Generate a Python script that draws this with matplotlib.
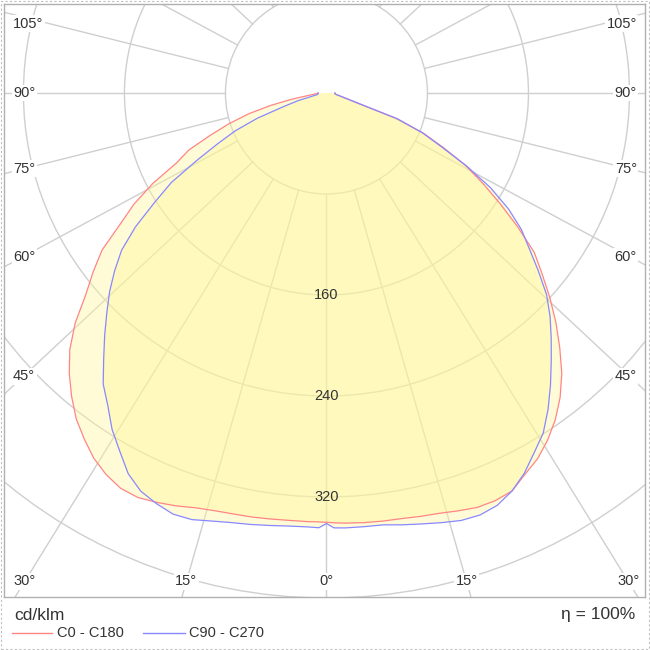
import numpy as np
import matplotlib.pyplot as plt
from matplotlib.lines import Line2D
from matplotlib.patches import Circle, Rectangle

plt.rcParams['font.family'] = ['Liberation Sans', 'DejaVu Sans']

# luminous intensity in cd/klm, gamma measured from straight down
gamma = np.array([0, 1] + list(np.arange(2.5, 90.1, 2.5)))
c0 = [340, 340.5, 341, 341.6, 342, 342.3, 343.5, 344.7, 347, 349.3,
      349.5, 347.8, 340.5, 334.5, 326, 316, 304, 290, 273.5, 257,
      240, 223, 207.5, 185, 163, 143, 124, 102, 83, 58,
      23, 15, 11, 8.6, 7.2, 6.8, 6.7, 6.7]
c180 = [340, 339.8, 339.8, 339.8, 340.3, 341, 341.5, 342.5, 344.5, 348,
        351, 353.5, 353, 349, 343, 334.5, 325.5, 314, 301.5, 287.5,
        270, 249, 233, 217, 194, 176, 155, 131, 118, 98,
        81, 64, 45, 27, 14, 9, 7, 6.5]
c90 = [341, 344.5, 344.8, 344.8, 345, 347.3, 349.6, 352.3, 355, 355.7,
       353.5, 347.8, 339.5, 329, 319.5, 306, 291.5, 277, 263.5, 250.5,
       236.5, 219, 202.5, 188.5, 171, 150, 125, 100, 82, 60,
       24, 15.5, 11, 8.8, 7.3, 6.9, 6.7, 6.7]
c270 = [341, 344.4, 344, 344.3, 345.5, 347, 348.5, 351, 354.3, 355,
        352, 348, 340, 327.5, 316, 302, 290.5, 274.5, 260, 246,
        233, 219, 204.5, 184.5, 161.5, 142, 116, 95, 78, 58,
        35, 23, 11.3, 7.5, 6.8, 6.6, 6.6, 6.6]

rings = [80, 160, 240, 320, 400]
ring_labels = [160, 240, 320]
spoke_angles = np.arange(0, 181, 15)
angle_labels = [0, 15, 30, 45, 60, 75, 90, 105]

red = '#ff8585'
blue = '#8888ff'
grid = '#cfcfcf'
txt = '#333333'
stretch = 1.07  # spokes in the source are slightly wider than the rings

W = 650
fig = plt.figure(figsize=(6.5, 6.5), dpi=100)
ax = fig.add_axes([4 / W, 1 - 597 / W, 641 / W, 593 / W])
ax.set_xlim(-255.4, 252.3)
ax.set_ylim(-399.2, 70.5)
ax.set_xticks([])
ax.set_yticks([])
for sp in ax.spines.values():
    sp.set_color('#b0b0b0')
    sp.set_linewidth(1)

# rings
for r in rings:
    ax.add_patch(Circle((0, 0), r, fill=False, ec=grid, lw=1, zorder=1))

# spokes, starting at the first ring
for a in spoke_angles:
    t = np.radians(a)
    for sgn in (-1, 1):
        if sgn == -1 and a in (0, 180):
            continue
        d = np.array([sgn * stretch * np.sin(t), -np.cos(t)])
        d = d / np.hypot(*d)
        ax.plot([80 * d[0], 800 * d[0]], [80 * d[1], 800 * d[1]],
                color=grid, lw=1, zorder=1)


def outline(left, right):
    g = np.radians(gamma)
    left = np.asarray(left)
    right = np.asarray(right)
    x = np.concatenate([-left[::-1] * np.sin(g[::-1]), right * np.sin(g)])
    y = np.concatenate([-left[::-1] * np.cos(g[::-1]), -right * np.cos(g)])
    return x, y


x_red, y_red = outline(c180, c0)
x_blue, y_blue = outline(c270, c90)
for xs, ys in [(x_red, y_red), (x_blue, y_blue)]:
    ax.fill(xs, ys, color='#fff796', alpha=0.38, lw=0, zorder=2)
ax.plot(x_red, y_red, color=red, lw=0.9, zorder=3)
ax.plot(x_blue, y_blue, color=blue, lw=0.9, zorder=3)

for r in ring_labels:
    ax.text(0, -r, str(r), ha='center', va='center', fontsize=10.5,
            color=txt, zorder=4)

# angle labels where the spokes meet the frame
side_x = 240
bottom_y = -386.9
top_y = 54.7
for a in angle_labels:
    t = np.radians(a)
    for sgn in (-1, 1):
        if sgn == -1 and a == 0:
            continue
        if a == 0:
            y_side = -1e9
        else:
            y_side = -side_x * np.cos(t) / (stretch * np.sin(t))
        y_side = min(y_side, top_y)
        box = dict(facecolor='white', edgecolor='none', pad=1)
        if y_side < bottom_y:
            xb = sgn * (-bottom_y) * stretch * np.tan(t)
            ax.text(xb, bottom_y, f'{a}°', ha='center', va='center',
                    fontsize=10.5, color=txt, bbox=box, zorder=5)
        elif sgn < 0:
            ax.text(-248.3, y_side, f'{a}°', ha='left', va='center',
                    fontsize=10.5, color=txt, bbox=box, zorder=5)
        else:
            ax.text(245.9, y_side, f'{a}°', ha='right', va='center',
                    fontsize=10.5, color=txt, bbox=box, zorder=5)

# caption and legend below the diagram
fig.text(14 / W, 1 - 615 / W, 'cd/klm', ha='left', va='center',
         fontsize=12.5, color=txt)
fig.text(635 / W, 1 - 615 / W, 'η = 100%', ha='right', va='center',
         fontsize=12.5, color=txt)
ly = 1 - 633 / W
fig.add_artist(Line2D([12 / W, 52 / W], [ly, ly], color=red, lw=1))
fig.text(57 / W, ly, 'C0 - C180', ha='left', va='center', fontsize=10.5,
         color=txt)
fig.add_artist(Line2D([143 / W, 185 / W], [ly, ly], color=blue, lw=1))
fig.text(189 / W, ly, 'C90 - C270', ha='left', va='center', fontsize=10.5,
         color=txt)

fig.add_artist(Rectangle((0.001, 0.001), 0.998, 0.998,
                         transform=fig.transFigure, fill=False,
                         ec='#c0c0c0', ls=(0, (2, 2)), lw=0.8))

fig.savefig('out.png', dpi=100, facecolor='white')
